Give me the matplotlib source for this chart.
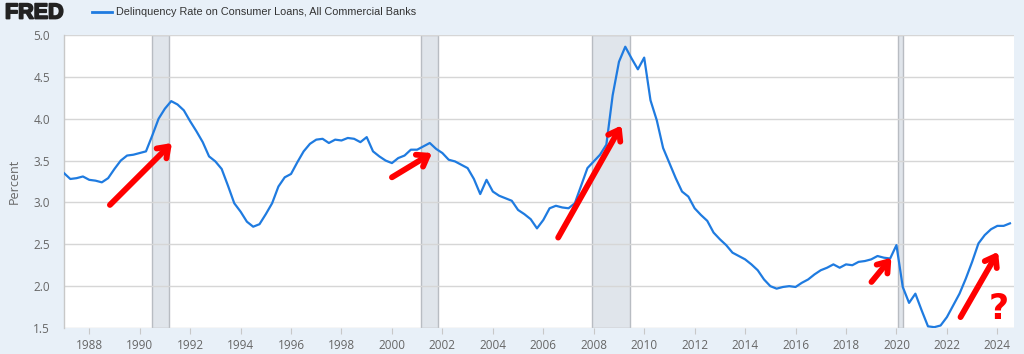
import numpy as np
import matplotlib
matplotlib.use("Agg")
import matplotlib.pyplot as plt
import matplotlib.patheffects as pe

# ---- data (quarterly, 1987Q1 .. 2024Q3), percent ----
start_year = 1987
rate = [
    3.35, 3.28, 3.29, 3.31,  # 1987
    3.27, 3.26, 3.24, 3.29,  # 1988
    3.40, 3.50, 3.56, 3.57,  # 1989
    3.59, 3.61, 3.80, 4.00,  # 1990
    4.12, 4.21, 4.17, 4.10,  # 1991
    3.97, 3.85, 3.72, 3.55,  # 1992
    3.49, 3.40, 3.20, 2.99,  # 1993
    2.89, 2.77, 2.71, 2.74,  # 1994
    2.86, 2.99, 3.19, 3.30,  # 1995
    3.34, 3.48, 3.61, 3.70,  # 1996
    3.75, 3.76, 3.71, 3.75,  # 1997
    3.74, 3.77, 3.76, 3.72,  # 1998
    3.78, 3.61, 3.55, 3.50,  # 1999
    3.47, 3.53, 3.56, 3.63,  # 2000
    3.63, 3.67, 3.71, 3.64,  # 2001
    3.59, 3.51, 3.49, 3.45,  # 2002
    3.41, 3.28, 3.10, 3.27,  # 2003
    3.13, 3.08, 3.05, 3.02,  # 2004
    2.91, 2.86, 2.80, 2.69,  # 2005
    2.79, 2.93, 2.96, 2.94,  # 2006
    2.93, 2.99, 3.20, 3.41,  # 2007
    3.49, 3.57, 3.69, 4.28,  # 2008
    4.68, 4.86, 4.72, 4.59,  # 2009
    4.73, 4.22, 3.98, 3.65,  # 2010
    3.47, 3.29, 3.13, 3.07,  # 2011
    2.93, 2.85, 2.78, 2.64,  # 2012
    2.56, 2.49, 2.40, 2.36,  # 2013
    2.32, 2.26, 2.19, 2.08,  # 2014
    2.00, 1.97, 1.99, 2.00,  # 2015
    1.99, 2.04, 2.08, 2.14,  # 2016
    2.19, 2.22, 2.26, 2.22,  # 2017
    2.26, 2.25, 2.29, 2.30,  # 2018
    2.32, 2.36, 2.34, 2.33,  # 2019
    2.49, 1.99, 1.80, 1.91,  # 2020
    1.71, 1.52, 1.51, 1.53,  # 2021
    1.63, 1.77, 1.91, 2.09,  # 2022
    2.29, 2.51, 2.61, 2.68,  # 2023
    2.72, 2.72, 2.75,        # 2024
]
dates = start_year + np.arange(len(rate)) / 4.0

# NBER recessions (decimal years)
rec_start = [1990.5, 2001.17, 2007.92, 2020.08]
rec_end = [1991.17, 2001.83, 2009.42, 2020.25]

xticks = list(range(1988, 2025, 2))
yticks = [1.5, 2.0, 2.5, 3.0, 3.5, 4.0, 4.5, 5.0]

# hand-drawn red annotation arrows: (tail_x, tail_y, tip_x, tip_y) in data units
arrows = [
    (1988.82, 2.97, 1991.28, 3.71),
    (2000.00, 3.30, 2001.59, 3.59),
    (2006.59, 2.58, 2009.10, 3.92),
    (2019.01, 2.05, 2019.80, 2.34),
    (2022.54, 1.63, 2024.03, 2.41),
]
question_pos = (2024.05, 1.52)

title = "Delinquency Rate on Consumer Loans, All Commercial Banks"

# ---- style ----
BG = "#e8f0f8"
LINE = "#1f7be0"
TXT = "#666666"

W, H = 1024, 354
fig = plt.figure(figsize=(W / 100, H / 100), dpi=100, facecolor=BG)
ax = fig.add_axes([64 / W, 1 - 328 / H, (1014 - 64) / W, (328 - 35) / H])
ax.set_facecolor("white")

for s, e in zip(rec_start, rec_end):
    ax.axvspan(s, e, facecolor="#e0e5eb", edgecolor="#b8bcc2", lw=1.0, zorder=1)

ax.plot(dates, rate, color=LINE, lw=1.6, zorder=3, solid_joinstyle="round")

ax.set_xlim(1987.0, 2024.66)
ax.set_ylim(1.5, 5.0)
ax.set_yticks(yticks)
ax.set_yticklabels([f"{v:.1f}" for v in yticks])
ax.set_xticks(xticks)
ax.set_xticklabels([str(v) for v in xticks])
ax.grid(axis="y", color="#d6d6d6", lw=1.0, zorder=0)
ax.grid(axis="x", visible=False)
for side in ["top", "right", "bottom"]:
    ax.spines[side].set_visible(False)
ax.spines["left"].set_color("#c8c8c8")
ax.spines["left"].set_linewidth(1.0)
ax.tick_params(axis="y", length=0, pad=10, labelsize=8.5, labelcolor=TXT)
ax.tick_params(axis="x", length=4, width=0.8, color="#c8c8c8", pad=4,
               labelsize=8.5, labelcolor=TXT)
for lab in ax.get_xticklabels() + ax.get_yticklabels():
    lab.set_family("Open Sans")
ax.set_ylabel("Percent", fontsize=9, color=TXT, family="Open Sans", labelpad=9)

# red hand-drawn arrows
for tx, ty, hx, hy in arrows:
    ax.annotate("", xy=(hx, hy), xytext=(tx, ty),
                arrowprops=dict(arrowstyle="->,head_length=0.7,head_width=0.5",
                                color="#ff0000", lw=4.2, capstyle="round",
                                joinstyle="round", shrinkA=0, shrinkB=0),
                zorder=5, annotation_clip=False)
ax.text(question_pos[0], question_pos[1], "?", color="#ff0000", fontsize=25,
        fontweight="bold", ha="center", va="bottom", family="DejaVu Sans",
        zorder=5, clip_on=False)

# header
fig.text(5 / W, 1 - 13 / H, "FRED", fontsize=15.5, fontweight="bold",
         family="Liberation Sans", color="#222222", va="center", ha="left",
         path_effects=[pe.withStroke(linewidth=1.3, foreground="#222222")])
fig.add_artist(plt.Line2D([92 / W, 112 / W], [1 - 12 / H, 1 - 12 / H],
                          color=LINE, lw=2.0, transform=fig.transFigure))
fig.text(116 / W, 1 - 12 / H, title, fontsize=7.8, family="Liberation Sans",
         color="#333333", va="center", ha="left")

fig.savefig("out.png", dpi=100, facecolor=BG)
